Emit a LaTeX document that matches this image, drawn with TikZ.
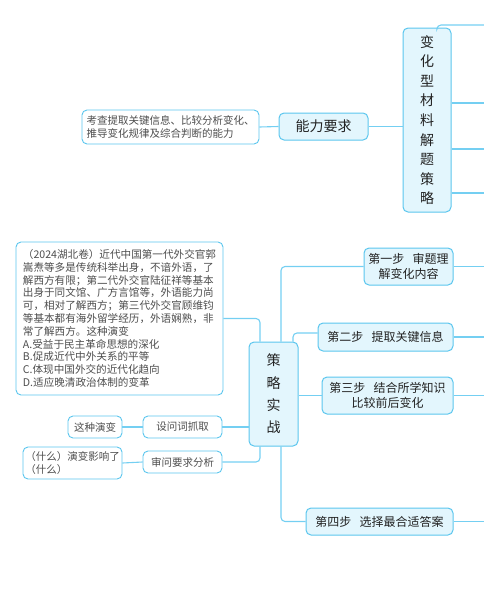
\documentclass[tikz,border=0pt]{standalone}
\usepackage{fontspec}
\setmainfont{Noto Sans CJK SC}

\definecolor{lineblue}{HTML}{74CFF2}
\definecolor{boxblue}{HTML}{5BC6EE}
\definecolor{fillblue}{HTML}{E3F6FD}
\definecolor{textgray}{HTML}{222222}

\begin{document}
\begin{tikzpicture}[x=1pt,y=-1pt,
    mainbox/.style={draw=boxblue, fill=fillblue, rounded corners=5pt, line width=1pt,
        text=textgray, align=center, inner sep=0pt},
    leafbox/.style={draw=boxblue, fill=white, rounded corners=5pt, line width=0.9pt,
        text=textgray!80, align=left, inner sep=0pt, font=\fontsize{10.5}{12.8}\selectfont},
    link/.style={draw=lineblue, line width=1.1pt, rounded corners=4pt}]

    \useasboundingbox (0,0) rectangle (484,600);

    % Define the coordinates for the free ends at the right edge
    \coordinate (edge) at (484,0);
    \coordinate (T0) at (484,25);
    \coordinate (T1) at (484,103);
    \coordinate (T2) at (484,149);
    \coordinate (T3) at (484,193);

    % Draw the main nodes
    \node[mainbox, minimum width=48, minimum height=184, font=\fontsize{14}{19.6}\selectfont]
        (topic) at (427,120) {变\\化\\型\\材\\料\\解\\题\\策\\略};
    \node[mainbox, minimum width=89, minimum height=27, font=\fontsize{14}{16}\selectfont]
        (ability) at (323.5,126.5) {能力要求};
    \node[mainbox, minimum width=49, minimum height=104, font=\fontsize{14}{22.3}\selectfont]
        (strategy) at (273.5,394) {策\\略\\实\\战};

    % Draw the four steps
    \node[mainbox, minimum width=89, minimum height=37, font=\fontsize{12}{14.3}\selectfont]
        (step1) at (408.5,266.5) {第一步\hspace{0.7em}审题理\\解变化内容};
    \node[mainbox, minimum width=135, minimum height=28, font=\fontsize{12}{14.3}\selectfont]
        (step2) at (385.5,337) {第二步\hspace{0.7em}提取关键信息};
    \node[mainbox, minimum width=131, minimum height=37, font=\fontsize{12}{14.3}\selectfont]
        (step3) at (387.5,395.5) {第三步\hspace{0.7em}结合所学知识\\比较前后变化};
    \node[mainbox, minimum width=147, minimum height=27, font=\fontsize{12}{14.3}\selectfont]
        (step4) at (379.5,521.5) {第四步\hspace{0.7em}选择最合适答案};

    % Draw the leaves
    \node[leafbox, minimum width=177, minimum height=34]
        (abilitytext) at (170.5,127) {考查提取关键信息、比较分析变化、\\推导变化规律及综合判断的能力};
    \node[leafbox, minimum width=207, minimum height=153, font=\fontsize{10.6}{12.8}\selectfont]
        (question) at (119.5,318.5) {（2024湖北卷）近代中国第一代外交官郭\\
嵩焘等多是传统科举出身，不谙外语，了\\
解西方有限；第二代外交官陆征祥等基本\\
出身于同文馆、广方言馆等，外语能力尚\\
可，相对了解西方；第三代外交官顾维钧\\
等基本都有海外留学经历，外语娴熟，非\\
常了解西方。这种演变\\
A.受益于民主革命思想的深化\\
B.促成近代中外关系的平等\\
C.体现中国外交的近代化趋向\\
D.适应晚清政治体制的变革};
    \node[leafbox, align=center, minimum width=79, minimum height=22]
        (askword) at (182.5,427) {设问词抓取};
    \node[leafbox, align=center, minimum width=54, minimum height=22]
        (askwordleaf) at (95,427) {这种演变};
    \node[leafbox, align=center, minimum width=79, minimum height=22]
        (analysis) at (182.5,462) {审问要求分析};
    \node[leafbox, minimum width=99, minimum height=32]
        (analysisleaf) at (72.5,463) {（什么）演变影响了\\（什么）};

    % Draw the connectors of the top branch
    \draw[link] ([xshift=10pt]topic.north) |- (T0);
    \draw[link] (topic.east |- T1) -- (T1);
    \draw[link] (topic.east |- T2) -- (T2);
    \draw[link] (topic.east |- T3) -- (T3);
    \draw[link] (ability.east) -- (ability.east -| topic.west);
    \draw[link] (abilitytext.east) -- (ability.west);

    % Draw the connectors of the strategy branch
    \draw[link] (question.east) -| ([xshift=-13.5pt]strategy.north);
    \draw[link] ([xshift=7.5pt]strategy.north) |- (step1.west);
    \draw[link] ([xshift=19.5pt]strategy.north) |- ([yshift=4pt]step2.west);
    \draw[link] (strategy.east |- step3.west) -- (step3.west);
    \draw[link] ([xshift=7.5pt]strategy.south) |- (step4.west);
    \draw[link] (askword.east) -- (askword.east -| strategy.west);
    \draw[link] (askwordleaf.east) -- (askword.west);
    \draw[link] ([xshift=-13.5pt]strategy.south) |- (analysis.east);
    \draw[link] (analysisleaf.east) -- (analysis.west);

    % Draw the lines leaving the steps
    \draw[link] (step1.east) -- (step1.east -| edge);
    \draw[link] (step2.east) -- (step2.east -| edge);
    \draw[link] (step3.east) -- (step3.east -| edge);
    \draw[link] (step4.east) -- (step4.east -| edge);

\end{tikzpicture}
\end{document}
